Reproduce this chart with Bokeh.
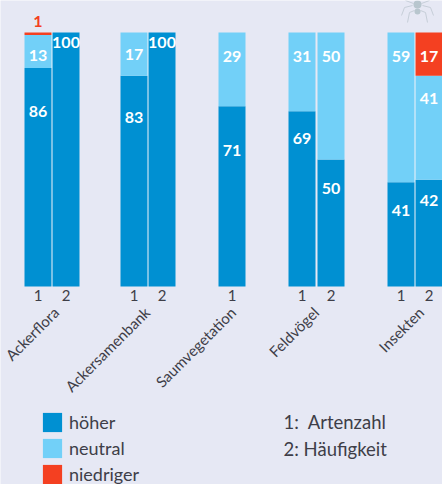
import math
from bokeh.core.properties import value
from bokeh.embed import file_html
from bokeh.models import ColumnDataSource, FixedTicker, Legend, LegendItem, Range1d
from bokeh.plotting import figure
from bokeh.resources import INLINE

groups = ["Ackerflora", "Ackersamenbank", "Saumvegetation", "Feldvögel", "Insekten"]
group_bars = [2, 2, 1, 2, 2]
bar_names = ["1", "2", "1", "2", "1", "1", "2", "1", "2"]
hoeher = [86, 100, 83, 100, 71, 69, 50, 41, 42]
neutral = [13, 0, 17, 0, 29, 31, 50, 59, 41]
niedriger = [1, 0, 0, 0, 0, 0, 0, 0, 17]
series = ["höher", "neutral", "niedriger"]
notes = ["1:\u00a0\u00a0Artenzahl", "2:\u00a0Häufigkeit"]

BG = "#e6e8f4"
BLUE = "#0090d2"
LIGHT = "#72d0f8"
RED = "#f44021"
DARK = "#3e3e48"
FONT = "Lato"

# horizontal layout: bars are placed by walking groups, axis units are pixels here
first, pitches, gaps = 37.5, [28, 28, 0, 29, 28], [68, 70, 70, 70]
xpos, group_first, cur = [], [], first
for gi, n in enumerate(group_bars):
    group_first.append(cur)
    xpos.append(cur)
    if n == 2:
        cur += pitches[gi]
        xpos.append(cur)
    if gi < len(gaps):
        cur += gaps[gi]

p = figure(width=442, height=484, output_backend="svg", toolbar_location=None,
           x_range=Range1d(0, 442), y_range=Range1d((286 - 484) / 2.54, 286 / 2.54),
           min_border_left=0, min_border_right=0, min_border_top=0, min_border_bottom=0,
           background_fill_color=BG, border_fill_color=BG, outline_line_color=None)
p.grid.visible = False
p.yaxis.visible = False

src = ColumnDataSource(dict(x=xpos, höher=hoeher, neutral=neutral, niedriger=niedriger))
rs = p.vbar_stack(series, x="x", width=27, color=[BLUE, LIGHT, RED], source=src, line_color=None)

ax = p.xaxis[0]
ax.fixed_location = 0
ax.ticker = FixedTicker(ticks=xpos)
ax.major_label_overrides = {x: n for x, n in zip(xpos, bar_names)}
ax.axis_line_color = None
ax.major_tick_line_color = None
ax.minor_tick_line_color = None
ax.major_tick_out = 0
ax.major_tick_in = 0
ax.major_label_text_font = FONT
ax.major_label_text_font_size = "15px"
ax.major_label_text_color = DARK
ax.major_label_standoff = 3

# white hairline between the touching bars of a pair
pair_x = [xpos[0] + 14, xpos[2] + 14, xpos[7] + 14]
p.segment(x0=pair_x, x1=pair_x, y0=[0] * 3, y1=[100] * 3, line_color="white", line_width=1, level="underlay")

# value labels, hung below the top of their segment
xs, ys, txt, cols, offs = [], [], [], [], []
hang_h = [43, 10, 42, 10, 44, 27, 29, 28, 21]
hang_n = [20, 0, 22, 0, 24, 24, 24, 24, 23]
for i, b in enumerate(xpos):
    v = hoeher[i]
    xs.append(b); ys.append(v); txt.append(str(v)); cols.append("white"); offs.append(hang_h[i])
    if neutral[i]:
        xs.append(b); ys.append(v + neutral[i]); txt.append(str(neutral[i])); cols.append("white"); offs.append(hang_n[i])
    if niedriger[i] > 5:
        xs.append(b); ys.append(v + neutral[i] + niedriger[i]); txt.append(str(niedriger[i])); cols.append("white"); offs.append(24)
    elif niedriger[i]:
        xs.append(b); ys.append(v + neutral[i] + niedriger[i]); txt.append(str(niedriger[i])); cols.append(RED); offs.append(-11)
lab = ColumnDataSource(dict(x=xs, y=ys, t=txt, c=cols, o=offs))
p.text(x="x", y="y", text="t", text_color="c", y_offset="o", source=lab,
       text_align="center", text_baseline="middle", text_font=value(FONT),
       text_font_style="bold", text_font_size="16px")

# spider ornament (faint, top right)
def sy(py):
    return (286 - py) / 2.54
legs = [[(413, 3), (405, 0)], [(412, 5), (404, 7), (401, 15)], [(414, 10), (409, 12), (407, 22)]]
for leg in legs:
    for m in (0, 1):
        pts = [(834 - a if m else a, b) for a, b in leg]
        p.line(x=[a for a, b in pts], y=[sy(b) for a, b in pts], line_color="#c6ced8", line_width=1)
p.scatter(x=[417, 417], y=[sy(4), sy(11)], size=[8, 6], color="#b8c6ce", line_color=None)

# rotated group names, right end under their bars
name_off = [18, 13, 1, 14, 20]
p.text(x=group_first, y=[0] * 5, text=groups, x_offset=name_off, y_offset=[23] * 5,
       angle=math.pi / 4, text_align="right", text_baseline="middle", text_font=value(FONT),
       text_font_size="15px", text_color=DARK)

legend = Legend(items=[LegendItem(label=s, renderers=[r]) for s, r in zip(series, rs)],
                location=(40, -2), orientation="vertical", glyph_width=24, glyph_height=24,
                label_width=60, label_height=19, spacing=2, padding=0, margin=0,
                background_fill_alpha=0, border_line_color=None, label_standoff=5,
                label_text_font=FONT, label_text_font_size="18px", label_text_color=DARK)
p.add_layout(legend)

p.text(x=[283, 283], y=[sy(421), sy(448)], text=notes, text_align="left", text_baseline="middle",
       text_font=value(FONT), text_font_size="18.5px", text_color=DARK)

open("out.html", "w").write(file_html(p, INLINE))
